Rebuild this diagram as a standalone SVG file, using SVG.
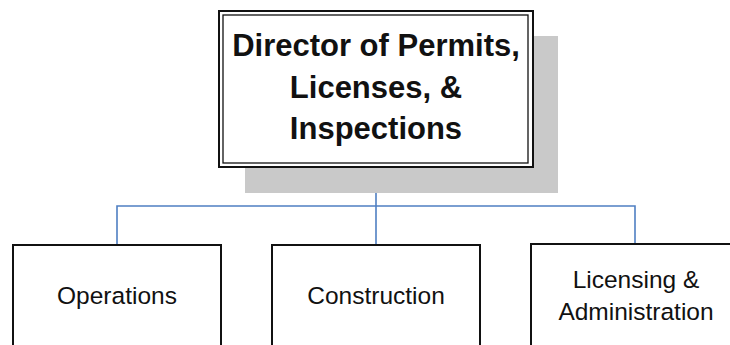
<svg xmlns="http://www.w3.org/2000/svg" width="730" height="345" viewBox="0 0 730 345">
<style>
.conn{fill:none;stroke:#4f7fc2;stroke-width:1.6}
.box{fill:#fff;stroke:#111;stroke-width:2}
.t{font-family:"Liberation Sans",Arial,sans-serif;fill:#111;text-anchor:middle}
.big{font-size:31px;font-weight:bold}
.sm{font-size:24.5px}
</style>
<rect width="730" height="345" fill="#fff"/>
<g id="connectors">
<path class="conn" d="M376,166 V245"/>
<path class="conn" d="M117,245 V206 H635 V244"/>
</g>
<g id="director">
<rect x="245" y="36" width="313" height="157" fill="#c9c9c9"/>
<rect x="219" y="11" width="314" height="156" fill="#fff" stroke="#111" stroke-width="2"/>
<rect x="223" y="15" width="305" height="148" fill="none" stroke="#111" stroke-width="1.3"/>
<text class="t big" x="376" y="56">Director of Permits,</text>
<text class="t big" x="376" y="97.5">Licenses, &amp;</text>
<text class="t big" x="376" y="139">Inspections</text>
</g>
<g id="operations">
<rect class="box" x="13" y="245" width="208" height="110"/>
<text class="t sm" x="117" y="304">Operations</text>
</g>
<g id="construction">
<rect class="box" x="272" y="245" width="208" height="110"/>
<text class="t sm" x="376" y="304">Construction</text>
</g>
<g id="licensing">
<rect class="box" x="531" y="244" width="220" height="110"/>
<text class="t sm" x="636" y="288">Licensing &amp;</text>
<text class="t sm" x="636" y="320">Administration</text>
</g>
</svg>
